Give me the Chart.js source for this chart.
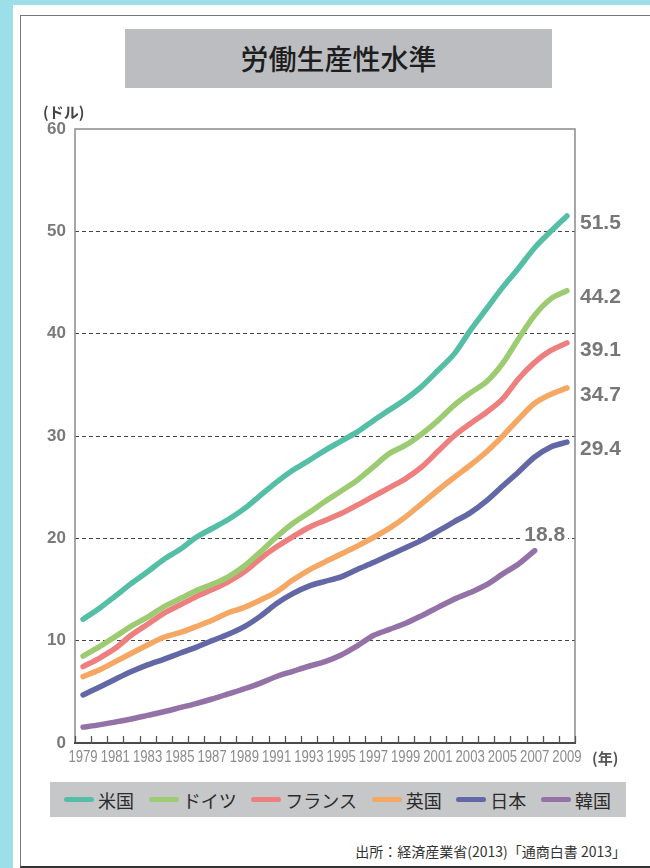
<!DOCTYPE html>
<html lang="ja">
<head>
  <meta charset="UTF-8" />
  <title>労働生産性水準</title>
  <style>
    html, body { margin: 0; padding: 0; }
    body {
      width: 650px;
      height: 868px;
      position: relative;
      overflow: hidden;
      background: #9ddfe8;
      font-family: "Noto Sans CJK JP", sans-serif;
    }
    .sheet { position: absolute; left: 13px; top: 5px; right: 0; bottom: 0; background: #fff; }
    .frame {
      position: absolute; left: 20px; top: 15px; right: -4px; bottom: 0;
      border: 1.5px solid #777; border-bottom: 2px solid #333;
    }
    .title {
      position: absolute; left: 125px; top: 29px; width: 427px; height: 59px;
      background: #bcbdc1; color: #1e1e1e; font-size: 28px; font-weight: 500;
      line-height: 59px; text-align: center;
    }
    .legend {
      position: absolute; left: 50px; top: 782px; width: 576px; height: 35px;
      background: #c6c7c9; display: flex; align-items: center;
      justify-content: space-between; padding: 0 15px 0 14px; box-sizing: border-box;
    }
    .item { display: flex; align-items: center; font-size: 18px; color: #2b2b2b; }
    .swatch { width: 30px; height: 5px; border-radius: 3px; margin-right: 4px; }
    .source { position: absolute; right: 24px; top: 841px; font-size: 14px; line-height: 20px; color: #333; }
    canvas { position: absolute; left: 0; top: 0; }
  </style>
</head>
<body>
  <div class="sheet"></div>
  <div class="frame"></div>
  <div class="title">労働生産性水準</div>
  <div class="legend" id="legend"></div>
  <div class="source">出所：経済産業省(2013)「通商白書 2013」</div>

  <canvas id="chart" width="650" height="868"></canvas>

  <script src="https://cdn.jsdelivr.net/npm/chart.js"></script>
  <script>
    // 年（横軸）
    const years = ['1979', '1980', '1981', '1982', '1983', '1984', '1985', '1986', '1987', '1988',
                   '1989', '1990', '1991', '1992', '1993', '1994', '1995', '1996', '1997', '1998',
                   '1999', '2000', '2001', '2002', '2003', '2004', '2005', '2006', '2007', '2008', '2009'];

    // 国名と色
    const countries = ['米国', 'ドイツ', 'フランス', '英国', '日本', '韓国'];
    const colors = ['#55bea7', '#9dcb72', '#ed7f7f', '#f5a764', '#6268a6', '#9472a8'];

    // 労働生産性（ドル）
    const usa = [12.1, 13.15, 14.36, 15.6, 16.73, 17.94, 18.9, 20.08, 20.96, 21.84,
                 22.9, 24.2, 25.5, 26.65, 27.6, 28.6, 29.5, 30.4, 31.5, 32.55,
                 33.6, 34.85, 36.4, 38.0, 40.3, 42.4, 44.5, 46.4, 48.4, 50.0, 51.5];
    const germany = [8.5, 9.4, 10.4, 11.43, 12.3, 13.3, 14.1, 14.88, 15.5, 16.24,
                     17.3, 18.68, 20.15, 21.45, 22.5, 23.6, 24.63, 25.68, 26.98, 28.3,
                     29.1, 30.2, 31.5, 33.0, 34.2, 35.27, 37.06, 39.5, 41.8, 43.4, 44.2];
    const france = [7.46, 8.28, 9.25, 10.55, 11.6, 12.67, 13.48, 14.3, 15.0, 15.76,
                    16.73, 18.03, 19.17, 20.15, 21.06, 21.75, 22.42, 23.24, 24.1, 24.96,
                    25.84, 26.98, 28.5, 30.0, 31.2, 32.3, 33.6, 35.6, 37.2, 38.36, 39.1];
    const uk = [6.49, 7.14, 7.95, 8.77, 9.58, 10.33, 10.78, 11.37, 12.0, 12.73,
                13.25, 13.97, 14.78, 15.92, 16.9, 17.7, 18.46, 19.24, 20.08, 21.0,
                22.1, 23.4, 24.7, 25.94, 27.14, 28.44, 29.97, 31.65, 33.2, 34.07, 34.7];
    const japan = [4.7, 5.45, 6.23, 6.98, 7.63, 8.18, 8.77, 9.35, 10.0, 10.62,
                   11.37, 12.4, 13.64, 14.6, 15.33, 15.8, 16.24, 16.96, 17.64, 18.36,
                   19.07, 19.82, 20.7, 21.61, 22.49, 23.66, 25.09, 26.49, 27.95, 28.93, 29.4];
    const korea = [1.55, 1.77, 2.05, 2.35, 2.7, 3.05, 3.45, 3.85, 4.3, 4.8,
                   5.3, 5.85, 6.5, 7.0, 7.5, 7.95, 8.6, 9.5, 10.5, 11.1,
                   11.7, 12.45, 13.25, 14.05, 14.7, 15.45, 16.5, 17.5, 18.8, null, null];
    const series = [usa, germany, france, uk, japan, korea];

    // 縦軸
    const yMin = 0, yMax = 60, yStep = 10;

    // 凡例（HTML）
    const legendBox = document.getElementById('legend');
    countries.forEach((name, i) => {
      const item = document.createElement('div');
      item.className = 'item';
      item.innerHTML = '<span class="swatch" style="background:' + colors[i] + '"></span>' + name;
      legendBox.appendChild(item);
    });

    // 枠線・目盛り・年ラベル・末尾の数値ラベル
    const decorations = {
      id: 'decorations',
      afterDatasetsDraw(chart) {
        const { ctx, chartArea: a, scales: { x, y } } = chart;
        ctx.save();

        // 枠
        ctx.lineWidth = 1.5;
        ctx.strokeStyle = '#8a8a8a';
        ctx.beginPath();
        ctx.moveTo(a.left, a.bottom); ctx.lineTo(a.left, a.top);
        ctx.lineTo(a.right, a.top); ctx.lineTo(a.right, a.bottom);
        ctx.stroke();
        ctx.lineWidth = 2;
        ctx.strokeStyle = '#4a4a4a';
        ctx.beginPath();
        ctx.moveTo(a.left - 1, a.bottom); ctx.lineTo(a.right + 1, a.bottom);
        ctx.stroke();

        // 内向きの目盛り（年の境目）
        const step = (a.right - a.left) / years.length;
        ctx.lineWidth = 1.3;
        ctx.strokeStyle = '#555';
        for (let i = 0; i <= years.length; i++) {
          const px = Math.round(a.left + i * step) + 0.5;
          ctx.beginPath();
          ctx.moveTo(px, a.bottom - 7);
          ctx.lineTo(px, a.bottom);
          ctx.stroke();
        }

        // 年ラベル（縦長の細い数字）
        ctx.fillStyle = '#8c8c8c';
        ctx.font = '16px "Liberation Sans", Arial, sans-serif';
        ctx.textAlign = 'center';
        ctx.textBaseline = 'middle';
        years.forEach((yr, i) => {
          if (i % 2) return;
          ctx.save();
          ctx.translate(x.getPixelForValue(i), a.bottom + 15);
          ctx.scale(0.82, 1);
          ctx.fillText(yr, 0, 0);
          ctx.restore();
        });

        // 単位
        ctx.textAlign = 'left';
        ctx.fillStyle = '#444';
        ctx.font = 'bold 15px "Noto Sans CJK JP"';
        ctx.fillText('(ドル)', 43, 112);
        ctx.fillStyle = '#555';
        ctx.font = 'bold 15px "Noto Sans CJK JP"';
        ctx.fillText('(年)', a.right + 17, a.bottom + 15);

        // 末尾の値
        ctx.font = 'bold 21px "Liberation Sans", Arial, sans-serif';
        ctx.fillStyle = '#777';
        series.forEach((data) => {
          let last = data.length - 1;
          while (data[last] == null) last--;
          const v = data[last];
          const px = x.getPixelForValue(last);
          const py = y.getPixelForValue(v);
          const txt = v.toFixed(1);
          if (last === data.length - 1) {
            ctx.textAlign = 'left';
            ctx.fillText(txt, a.right + 5, py + 7);
          } else {
            ctx.textAlign = 'center';
            const w = ctx.measureText(txt).width;
            ctx.fillStyle = '#fff';
            ctx.fillRect(px + 10 - w / 2 - 3, py - 27, w + 6, 24);
            ctx.fillStyle = '#777';
            ctx.fillText(txt, px + 10, py - 15);
          }
        });
        ctx.restore();
      }
    };

    new Chart(document.getElementById('chart'), {
      type: 'line',
      data: {
        labels: years,
        datasets: countries.map((name, i) => ({
          label: name,
          data: series[i],
          borderColor: colors[i],
          backgroundColor: colors[i],
          borderWidth: 5.5,
          borderCapStyle: 'round',
          borderJoinStyle: 'round',
          pointRadius: 0,
          tension: 0.3,
          fill: false
        }))
      },
      options: {
        responsive: false,
        animation: false,
        devicePixelRatio: 1,
        layout: { padding: { left: 0, top: 129, right: 75, bottom: 95 } },
        plugins: {
          legend: { display: false },
          tooltip: { enabled: false }
        },
        scales: {
          x: {
            type: 'category',
            offset: true,
            grid: { display: false },
            border: { display: false },
            ticks: { display: false },
            afterFit: (s) => { s.height = 30; }
          },
          y: {
            min: yMin,
            max: yMax,
            ticks: {
              stepSize: yStep,
              padding: 9,
              color: '#7a7a7a',
              font: { family: '"Liberation Sans", Arial, sans-serif', size: 17, weight: 'bold' }
            },
            grid: {
              drawTicks: false,
              lineWidth: 1,
              color: (c) => (c.tick && (c.tick.value === yMin || c.tick.value === yMax) ? 'rgba(0,0,0,0)' : '#444')
            },
            border: { display: false, dash: [4, 3] },
            afterFit: (s) => { s.width = 75; }
          }
        }
      },
      plugins: [decorations]
    });
  </script>
</body>
</html>
